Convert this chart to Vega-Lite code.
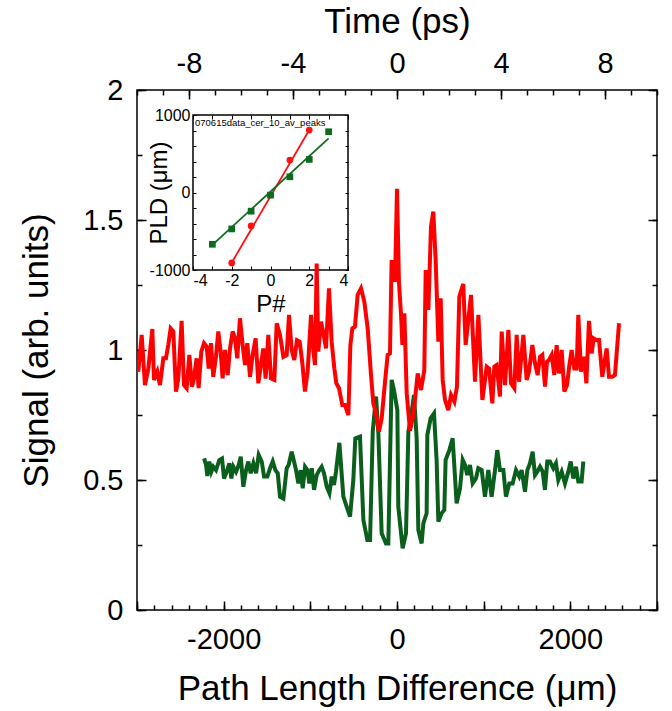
{
"$schema": "https://vega.github.io/schema/vega-lite/v6.json",
"width": 520, "height": 520,
"autosize": "none",
"padding": {"left": 137, "top": 90, "right": 15, "bottom": 101},
"background": "white",
"config": {
  "view": {"stroke": "black", "strokeWidth": 1.5},
  "font": "Liberation Sans",
  "axis": {"domain": false, "grid": false, "tickColor": "black", "tickWidth": 1.5, "labelColor": "black", "titleColor": "black", "titleFontWeight": "normal", "labelFont": "Liberation Sans", "titleFont": "Liberation Sans", "labelFontSize": 29, "titleFontSize": 35, "labelOverlap": false, "labelFlush": false, "labelBound": false}
},
"datasets": {
  "red": [
{"x":-3000,"y":0.94},{"x":-2985,"y":0.917},{"x":-2946,"y":1.058},{"x":-2908,"y":0.865},{"x":-2869,"y":0.929},{"x":-2823,"y":1.081},{"x":-2804,"y":0.885},{"x":-2766,"y":0.917},{"x":-2735,"y":0.865},{"x":-2696,"y":0.968},{"x":-2666,"y":0.968},{"x":-2639,"y":1.019},{"x":-2612,"y":1.083},{"x":-2581,"y":1.071},{"x":-2550,"y":0.84},{"x":-2523,"y":0.891},{"x":-2485,"y":1.112},{"x":-2458,"y":0.865},{"x":-2427,"y":0.853},{"x":-2396,"y":0.981},{"x":-2366,"y":0.859},{"x":-2343,"y":0.891},{"x":-2312,"y":0.968},{"x":-2289,"y":0.853},{"x":-2258,"y":0.994},{"x":-2227,"y":1.026},{"x":-2196,"y":1.013},{"x":-2173,"y":0.929},{"x":-2146,"y":1.026},{"x":-2120,"y":0.897},{"x":-2089,"y":0.974},{"x":-2062,"y":1.071},{"x":-2035,"y":0.994},{"x":-2012,"y":0.891},{"x":-1985,"y":1.0},{"x":-1954,"y":0.904},{"x":-1927,"y":1.006},{"x":-1896,"y":1.071},{"x":-1870,"y":1.047},{"x":-1843,"y":0.968},{"x":-1812,"y":1.122},{"x":-1785,"y":1.032},{"x":-1754,"y":0.942},{"x":-1727,"y":1.026},{"x":-1696,"y":0.897},{"x":-1666,"y":0.981},{"x":-1631,"y":1.045},{"x":-1600,"y":0.872},{"x":-1570,"y":0.942},{"x":-1543,"y":1.006},{"x":-1516,"y":0.89},{"x":-1485,"y":1.058},{"x":-1454,"y":0.891},{"x":-1415,"y":0.885},{"x":-1388,"y":1.103},{"x":-1350,"y":1.058},{"x":-1311,"y":0.974},{"x":-1273,"y":0.981},{"x":-1246,"y":1.135},{"x":-1215,"y":1.0},{"x":-1185,"y":0.962},{"x":-1154,"y":1.038},{"x":-1123,"y":1.032},{"x":-1092,"y":0.949},{"x":-1062,"y":0.84},{"x":-1031,"y":0.917},{"x":-992,"y":1.135},{"x":-965,"y":0.994},{"x":-946,"y":0.942},{"x":-927,"y":1.333},{"x":-908,"y":0.994},{"x":-877,"y":1.109},{"x":-846,"y":1.058},{"x":-819,"y":1.006},{"x":-785,"y":1.237},{"x":-754,"y":1.032},{"x":-723,"y":0.929},{"x":-700,"y":0.872},{"x":-669,"y":0.853},{"x":-631,"y":0.788},{"x":-600,"y":0.788},{"x":-561,"y":0.75},{"x":-538,"y":1.019},{"x":-515,"y":1.083},{"x":-485,"y":1.09},{"x":-454,"y":1.212},{"x":-415,"y":1.237},{"x":-377,"y":1.186},{"x":-338,"y":1.083},{"x":-300,"y":0.904},{"x":-273,"y":0.795},{"x":-246,"y":0.763},{"x":-208,"y":0.686},{"x":-177,"y":0.737},{"x":-138,"y":0.878},{"x":-108,"y":0.981},{"x":-81,"y":0.987},{"x":-62,"y":1.346},{"x":-23,"y":1.263},{"x":0,"y":1.62},{"x":23,"y":1.256},{"x":46,"y":1.141},{"x":62,"y":1.02},{"x":85,"y":1.141},{"x":112,"y":0.833},{"x":150,"y":0.69},{"x":189,"y":0.75},{"x":239,"y":0.91},{"x":277,"y":0.846},{"x":315,"y":0.923},{"x":331,"y":1.308},{"x":362,"y":1.154},{"x":392,"y":1.474},{"x":419,"y":1.532},{"x":446,"y":1.346},{"x":477,"y":1.032},{"x":504,"y":1.199},{"x":527,"y":0.885},{"x":554,"y":0.808},{"x":592,"y":0.769},{"x":623,"y":0.827},{"x":662,"y":0.801},{"x":692,"y":0.859},{"x":719,"y":1.205},{"x":765,"y":1.254},{"x":792,"y":1.02},{"x":854,"y":1.212},{"x":900,"y":0.878},{"x":939,"y":1.135},{"x":985,"y":0.808},{"x":1035,"y":0.936},{"x":1062,"y":0.929},{"x":1100,"y":0.795},{"x":1123,"y":0.936},{"x":1150,"y":0.942},{"x":1188,"y":0.821},{"x":1208,"y":1.071},{"x":1246,"y":0.865},{"x":1285,"y":1.077},{"x":1315,"y":0.872},{"x":1354,"y":0.853},{"x":1381,"y":1.058},{"x":1408,"y":0.878},{"x":1458,"y":1.058},{"x":1496,"y":0.885},{"x":1523,"y":0.917},{"x":1562,"y":1.019},{"x":1592,"y":0.949},{"x":1623,"y":0.904},{"x":1650,"y":0.974},{"x":1677,"y":0.981},{"x":1708,"y":0.859},{"x":1731,"y":0.955},{"x":1754,"y":0.962},{"x":1785,"y":0.981},{"x":1815,"y":0.904},{"x":1842,"y":1.019},{"x":1869,"y":0.91},{"x":1900,"y":1.0},{"x":1931,"y":0.84},{"x":1962,"y":0.865},{"x":1989,"y":0.942},{"x":2015,"y":1.0},{"x":2046,"y":0.929},{"x":2073,"y":0.929},{"x":2092,"y":1.135},{"x":2123,"y":0.917},{"x":2158,"y":0.974},{"x":2185,"y":0.872},{"x":2215,"y":1.112},{"x":2246,"y":0.987},{"x":2269,"y":1.045},{"x":2304,"y":1.038},{"x":2331,"y":1.038},{"x":2369,"y":0.897},{"x":2419,"y":1.006},{"x":2446,"y":0.897},{"x":2485,"y":0.897},{"x":2515,"y":0.904},{"x":2562,"y":1.103}
  ],
  "green": [
{"x":-2226,"y":0.583},{"x":-2203,"y":0.558},{"x":-2188,"y":0.515},{"x":-2165,"y":0.571},{"x":-2142,"y":0.532},{"x":-2119,"y":0.551},{"x":-2088,"y":0.538},{"x":-2050,"y":0.577},{"x":-2019,"y":0.583},{"x":-1996,"y":0.506},{"x":-1965,"y":0.532},{"x":-1934,"y":0.564},{"x":-1911,"y":0.506},{"x":-1888,"y":0.551},{"x":-1857,"y":0.532},{"x":-1826,"y":0.558},{"x":-1803,"y":0.59},{"x":-1773,"y":0.474},{"x":-1742,"y":0.538},{"x":-1715,"y":0.571},{"x":-1688,"y":0.526},{"x":-1657,"y":0.564},{"x":-1626,"y":0.526},{"x":-1596,"y":0.596},{"x":-1561,"y":0.571},{"x":-1534,"y":0.513},{"x":-1496,"y":0.513},{"x":-1465,"y":0.545},{"x":-1434,"y":0.571},{"x":-1403,"y":0.538},{"x":-1376,"y":0.526},{"x":-1350,"y":0.436},{"x":-1311,"y":0.429},{"x":-1273,"y":0.545},{"x":-1250,"y":0.558},{"x":-1215,"y":0.609},{"x":-1188,"y":0.571},{"x":-1165,"y":0.538},{"x":-1138,"y":0.487},{"x":-1111,"y":0.538},{"x":-1088,"y":0.468},{"x":-1061,"y":0.551},{"x":-1034,"y":0.538},{"x":-1011,"y":0.487},{"x":-984,"y":0.545},{"x":-957,"y":0.462},{"x":-927,"y":0.519},{"x":-896,"y":0.538},{"x":-869,"y":0.551},{"x":-842,"y":0.526},{"x":-811,"y":0.474},{"x":-780,"y":0.449},{"x":-753,"y":0.513},{"x":-727,"y":0.481},{"x":-704,"y":0.532},{"x":-665,"y":0.643},{"x":-619,"y":0.436},{"x":-580,"y":0.397},{"x":-542,"y":0.359},{"x":-504,"y":0.5},{"x":-481,"y":0.66},{"x":-427,"y":0.667},{"x":-388,"y":0.346},{"x":-342,"y":0.269},{"x":-311,"y":0.269},{"x":-280,"y":0.686},{"x":-242,"y":0.821},{"x":-215,"y":0.679},{"x":-177,"y":0.295},{"x":-127,"y":0.256},{"x":-100,"y":0.256},{"x":-62,"y":0.885},{"x":-35,"y":0.846},{"x":4,"y":0.769},{"x":15,"y":0.397},{"x":65,"y":0.237},{"x":104,"y":0.295},{"x":131,"y":0.686},{"x":157,"y":0.731},{"x":196,"y":0.827},{"x":227,"y":0.66},{"x":246,"y":0.308},{"x":284,"y":0.256},{"x":304,"y":0.333},{"x":342,"y":0.372},{"x":350,"y":0.673},{"x":388,"y":0.737},{"x":427,"y":0.756},{"x":457,"y":0.577},{"x":477,"y":0.34},{"x":515,"y":0.372},{"x":546,"y":0.385},{"x":561,"y":0.577},{"x":604,"y":0.615},{"x":642,"y":0.66},{"x":688,"y":0.41},{"x":727,"y":0.468},{"x":758,"y":0.577},{"x":784,"y":0.558},{"x":811,"y":0.519},{"x":842,"y":0.558},{"x":873,"y":0.487},{"x":911,"y":0.506},{"x":938,"y":0.545},{"x":977,"y":0.538},{"x":1015,"y":0.436},{"x":1054,"y":0.538},{"x":1092,"y":0.436},{"x":1131,"y":0.538},{"x":1157,"y":0.615},{"x":1188,"y":0.538},{"x":1227,"y":0.538},{"x":1257,"y":0.436},{"x":1296,"y":0.487},{"x":1334,"y":0.487},{"x":1373,"y":0.538},{"x":1411,"y":0.513},{"x":1438,"y":0.538},{"x":1477,"y":0.455},{"x":1504,"y":0.538},{"x":1534,"y":0.564},{"x":1565,"y":0.609},{"x":1592,"y":0.519},{"x":1619,"y":0.532},{"x":1650,"y":0.551},{"x":1681,"y":0.532},{"x":1707,"y":0.462},{"x":1734,"y":0.571},{"x":1765,"y":0.571},{"x":1804,"y":0.545},{"x":1834,"y":0.564},{"x":1861,"y":0.5},{"x":1900,"y":0.532},{"x":1938,"y":0.487},{"x":1977,"y":0.532},{"x":2004,"y":0.571},{"x":2034,"y":0.506},{"x":2065,"y":0.551},{"x":2092,"y":0.494},{"x":2130,"y":0.494},{"x":2150,"y":0.571}
  ],
  "pts": [
{"p":-2,"v":-909,"s":"r"},{"p":-1,"v":-431,"s":"r"},{"p":0,"v":-30,"s":"r"},{"p":1,"v":418,"s":"r"},{"p":2,"v":806,"s":"r"},
{"p":-3,"v":-668,"s":"g"},{"p":-2,"v":-470,"s":"g"},{"p":-1,"v":-241,"s":"g"},{"p":0,"v":-34,"s":"g"},{"p":1,"v":203,"s":"g"},{"p":2,"v":427,"s":"g"},{"p":3,"v":784,"s":"g"}
  ],
  "fit": [
{"p":-2,"v":-905,"s":"r"},{"p":2,"v":806,"s":"r"},{"p":-3,"v":-675,"s":"g"},{"p":3,"v":698,"s":"g"}
  ]
},
"layer": [
  {
    "data": {"values": [{"x1": -4, "x2": 4, "y1": -1000, "y2": 1000}]},
    "mark": {"type": "rect", "fill": null, "stroke": "black", "strokeWidth": 1.5},
    "encoding": {
      "x": {"field": "x1", "type": "quantitative", "scale": {"domain": [-4, 4], "range": [56, 211], "nice": false, "zero": false},
            "axis": {"orient": "bottom", "offset": -340, "values": [-4, -2, 0, 2, 4], "labelExpr": "'' + datum.value", "ticks": false, "labelFontSize": 16, "labelPadding": 2, "labelFlush": true, "title": "P#", "titleFontSize": 24, "titlePadding": 4}},
      "x2": {"field": "x2"},
      "y": {"field": "y1", "type": "quantitative", "scale": {"domain": [-1000, 1000], "range": [180, 25], "nice": false, "zero": false},
            "axis": {"orient": "left", "offset": -56, "values": [-1000, 0, 1000], "labelExpr": "'' + datum.value", "ticks": false, "labelFontSize": 16, "labelPadding": 3, "title": "PLD (μm)", "titleFontSize": 24, "titleX": -34, "titleBaseline": "middle"}},
      "y2": {"field": "y2"}
    }
  },
  {
    "data": {"name": "fit"},
    "mark": {"type": "line", "strokeWidth": 1.8},
    "encoding": {
      "x": {"field": "p", "type": "quantitative", "scale": {"domain": [-4, 4], "range": [56, 211], "nice": false, "zero": false},
            "axis": {"orient": "bottom", "offset": -340, "values": [-4, -3, -2, -1, 0, 1, 2, 3, 4], "labels": false, "tickSize": -4, "tickWidth": 1, "title": null}},
      "y": {"field": "v", "type": "quantitative", "scale": {"domain": [-1000, 1000], "range": [180, 25], "nice": false, "zero": false},
            "axis": {"orient": "left", "offset": -56, "values": [-1000, -800, -600, -400, -200, 0, 200, 400, 600, 800, 1000], "labels": false, "tickSize": -3, "tickWidth": 1, "title": null}},
      "color": {"field": "s", "type": "nominal", "scale": {"domain": ["r", "g"], "range": ["#ff1010", "#0d6b1d"]}, "legend": null}
    }
  },
  {
    "data": {"name": "pts"},
    "mark": {"type": "point", "filled": true, "opacity": 1, "size": 45},
    "encoding": {
      "x": {"field": "p", "type": "quantitative", "scale": {"domain": [-4, 4], "range": [56, 211], "nice": false, "zero": false},
            "axis": {"orient": "top", "offset": -25, "values": [-4, -3, -2, -1, 0, 1, 2, 3, 4], "labels": false, "tickSize": -4, "tickWidth": 1, "title": null}},
      "y": {"field": "v", "type": "quantitative", "scale": {"domain": [-1000, 1000], "range": [180, 25], "nice": false, "zero": false},
            "axis": {"orient": "right", "offset": -309, "values": [-1000, -800, -600, -400, -200, 0, 200, 400, 600, 800, 1000], "labels": false, "tickSize": -3, "tickWidth": 1, "title": null}},
      "color": {"field": "s", "type": "nominal", "scale": {"domain": ["r", "g"], "range": ["#ff1010", "#0d6b1d"]}, "legend": null},
      "shape": {"field": "s", "type": "nominal", "scale": {"domain": ["r", "g"], "range": ["circle", "square"]}, "legend": null}
    }
  },
  {
    "data": {"values": [{"p": -4, "v": 1000, "t": "070615data_cer_10_av_peaks"}]},
    "mark": {"type": "text", "align": "left", "baseline": "top", "dx": 2, "dy": 3, "fontSize": 9.5, "font": "Liberation Sans", "color": "black"},
    "encoding": {
      "x": {"field": "p", "type": "quantitative", "scale": {"domain": [-4, 4], "range": [56, 211], "nice": false, "zero": false}, "axis": null},
      "y": {"field": "v", "type": "quantitative", "scale": {"domain": [-1000, 1000], "range": [180, 25], "nice": false, "zero": false}, "axis": null},
      "text": {"field": "t"}
    }
  },
  {
    "data": {"name": "green"},
    "mark": {"type": "line", "color": "#0a5f1c", "strokeWidth": 4, "clip": true},
    "encoding": {
      "x": {"field": "x", "type": "quantitative", "scale": {"domain": [-3000, 3000], "nice": false, "zero": false},
            "axis": {"orient": "bottom", "values": [-3000, -2000, -1000, 0, 1000, 2000, 3000], "labels": false, "tickSize": -9, "title": null}},
      "y": {"field": "y", "type": "quantitative", "scale": {"domain": [0, 2], "nice": false, "zero": false},
            "axis": {"orient": "left", "values": [0, 0.5, 1, 1.5, 2], "labels": false, "tickSize": -9, "title": null}}
    }
  },
  {
    "data": {"name": "red"},
    "mark": {"type": "line", "color": "#ff0000", "strokeWidth": 4, "clip": true},
    "encoding": {
      "x": {"field": "x", "type": "quantitative", "scale": {"domain": [-3000, 3000], "nice": false, "zero": false},
            "axis": {"orient": "bottom", "values": [-2000, 0, 2000], "labelExpr": "'' + datum.value", "ticks": false, "labelPadding": 15, "title": "Path Length Difference (μm)", "titlePadding": 17}},
      "y": {"field": "y", "type": "quantitative", "scale": {"domain": [0, 2], "nice": false, "zero": false},
            "axis": {"orient": "left", "values": [0, 0.5, 1, 1.5, 2], "labelExpr": "'' + datum.value", "ticks": false, "labelPadding": 14, "title": "Signal (arb. units)", "titlePadding": 28}}
    }
  },
  {
    "data": {"values": [{"x": 0, "y": 0}]},
    "mark": {"type": "point", "opacity": 0},
    "encoding": {
      "x": {"field": "x", "type": "quantitative", "scale": {"domain": [-3000, 3000], "nice": false, "zero": false},
            "axis": {"orient": "bottom", "values": [-3000,-2800,-2600,-2400,-2200,-2000,-1800,-1600,-1400,-1200,-1000,-800,-600,-400,-200,0,200,400,600,800,1000,1200,1400,1600,1800,2000,2200,2400,2600,2800,3000], "labels": false, "tickSize": -5, "title": null}},
      "y": {"field": "y", "type": "quantitative", "scale": {"domain": [0, 2], "nice": false, "zero": false},
            "axis": {"orient": "left", "values": [0, 0.25, 0.5, 0.75, 1, 1.25, 1.5, 1.75, 2], "labels": false, "tickSize": -5, "title": null}}
    }
  },
  {
    "data": {"values": [{"x": 0, "y": 0}]},
    "mark": {"type": "point", "opacity": 0},
    "encoding": {
      "x": {"field": "x", "type": "quantitative", "scale": {"domain": [-3000, 3000], "nice": false, "zero": false},
            "axis": {"orient": "top", "values": [-2400, -1200, 0, 1200, 2400], "labelExpr": "'' + round(datum.value / 300)", "ticks": false, "labelPadding": 12, "title": "Time (ps)", "titlePadding": 10}},
      "y": {"field": "y", "type": "quantitative", "scale": {"domain": [0, 2], "nice": false, "zero": false},
            "axis": {"orient": "right", "values": [0, 0.5, 1, 1.5, 2], "labels": false, "tickSize": -9, "title": null}}
    }
  },
  {
    "data": {"values": [{"x": 0, "y": 0}]},
    "mark": {"type": "point", "opacity": 0},
    "encoding": {
      "x": {"field": "x", "type": "quantitative", "scale": {"domain": [-3000, 3000], "nice": false, "zero": false},
            "axis": {"orient": "top", "values": [-2400, -1200, 0, 1200, 2400], "labels": false, "tickSize": -9, "title": null}},
      "y": {"field": "y", "type": "quantitative", "scale": {"domain": [0, 2], "nice": false, "zero": false},
            "axis": {"orient": "right", "values": [0, 0.25, 0.5, 0.75, 1, 1.25, 1.5, 1.75, 2], "labels": false, "tickSize": -5, "title": null}}
    }
  },
  {
    "data": {"values": [{"x": 0, "y": 0}]},
    "mark": {"type": "point", "opacity": 0},
    "encoding": {
      "x": {"field": "x", "type": "quantitative", "scale": {"domain": [-3000, 3000], "nice": false, "zero": false},
            "axis": {"orient": "top", "values": [-3000,-2700,-2400,-2100,-1800,-1500,-1200,-900,-600,-300,0,300,600,900,1200,1500,1800,2100,2400,2700,3000], "labels": false, "tickSize": -5, "title": null}},
      "y": {"field": "y", "type": "quantitative", "scale": {"domain": [0, 2], "nice": false, "zero": false}, "axis": null}
    }
  }
],
"resolve": {"scale": {"x": "independent", "y": "independent", "color": "independent", "shape": "independent"}, "axis": {"x": "independent", "y": "independent"}}
}
